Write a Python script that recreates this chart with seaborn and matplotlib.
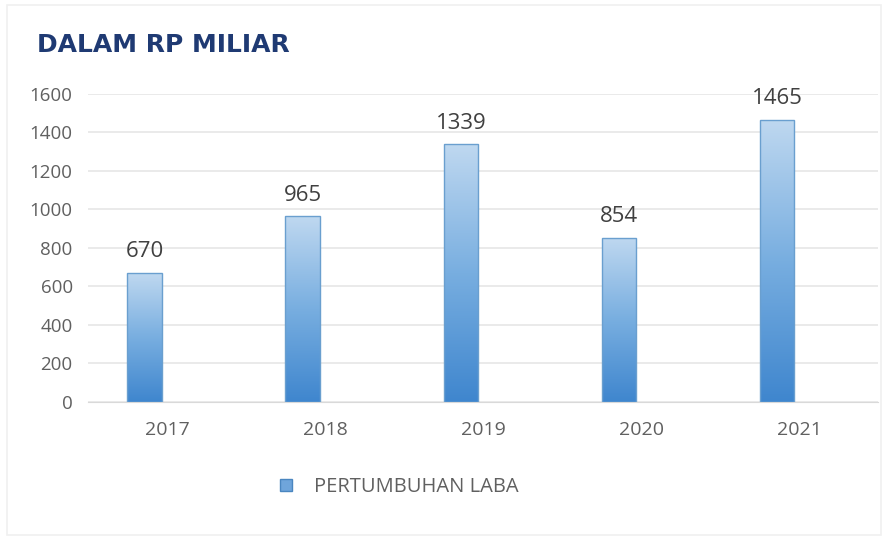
import numpy as np
import pandas as pd
import matplotlib
matplotlib.use("Agg")
import matplotlib.pyplot as plt
from matplotlib.colors import LinearSegmentedColormap
from matplotlib.patches import Patch, Rectangle
import seaborn as sns

years = ["2017", "2018", "2019", "2020", "2021"]
laba = [670, 965, 1339, 854, 1465]
series_name = "PERTUMBUHAN LABA"

df = pd.DataFrame({"tahun": years, "laba": laba})

sns.set_style("white")
plt.rcParams["font.family"] = ["Open Sans", "DejaVu Sans"]

fig = plt.figure(figsize=(8.88, 5.4), dpi=100)
ax = fig.add_axes([0.099, 0.2556, 0.89, 0.5704])

sns.barplot(data=df, x="tahun", y="laba", color="#5B9BD5", width=0.22, ax=ax)

ax.set_yticks(range(0, 1601, 200))
ax.yaxis.grid(True, color="#e6e6e6", linewidth=1.2)
ax.set_axisbelow(True)
for s in ["top", "right", "left"]:
    ax.spines[s].set_visible(False)
ax.spines["bottom"].set_color("#d9d9d9")
ax.tick_params(axis="y", length=0, labelsize=13.5, labelcolor="#606060", pad=11)
ax.tick_params(axis="x", length=0, labelsize=14, labelcolor="#606060", pad=14)
ax.set_xlabel("")
ax.set_ylabel("")

# gradient fill, light on top, deeper blue at the bottom
cmap = LinearSegmentedColormap.from_list("grad", ["#3F86CE", "#78AEE0", "#BFD8F0"])
grad = np.linspace(0, 1, 256).reshape(-1, 1)
for p, v in zip(ax.patches, laba):
    p.set_x(p.get_x() - 0.14)
    p.set_facecolor("none")
    p.set_edgecolor("#6A9FCF")
    p.set_linewidth(1.0)
    x0 = p.get_x()
    x1 = x0 + p.get_width()
    im = ax.imshow(grad, extent=[x0, x1, 0, v], origin="lower", aspect="auto",
                   cmap=cmap, zorder=2)
    im.set_clip_path(p)
    p.set_zorder(3)
    ax.text(x0 + p.get_width() / 2, v + 55, str(v), ha="center", va="bottom",
            fontsize=16, color="#404040")

ax.set_xlim(-0.5, 4.5)
ax.set_ylim(0, 1600)

fig.text(0.042, 0.917, "DALAM RP MILIAR", fontsize=18, fontweight="heavy",
         color="#1F3A73", ha="left", va="center", family="DejaVu Sans")

handle = Patch(facecolor="#6FA5DB", edgecolor="#4A86C0")
fig.legend([handle], [series_name], loc="center left", bbox_to_anchor=(0.295, 0.098),
           frameon=False, fontsize=14.5, labelcolor="#606060",
           handlelength=0.6, handleheight=0.6, handletextpad=1.1)

# faint frame around the picture
fig.patches.append(Rectangle((0.008, 0.01), 0.984, 0.98, transform=fig.transFigure,
                             fill=False, edgecolor="#f0f0f0", linewidth=1.2))

fig.savefig("out.png", dpi=100)
